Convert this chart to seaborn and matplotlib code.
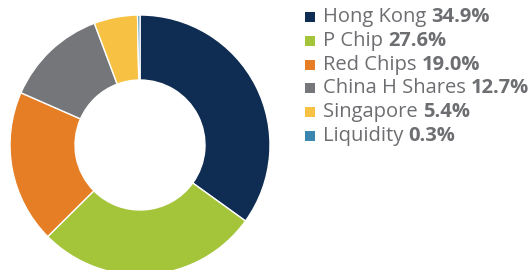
import matplotlib
matplotlib.use("Agg")
import matplotlib.pyplot as plt
import seaborn as sns
from matplotlib.patches import Rectangle

# Data
regions = ["Hong Kong", "P Chip", "Red Chips", "China H Shares", "Singapore", "Liquidity"]
weights = [34.9, 27.6, 19.0, 12.7, 5.4, 0.3]
colors = ["#0f2d52", "#a4c43a", "#e67e25", "#75767a", "#f7c243", "#3a86b0"]

sns.set_theme(style="white")
plt.rcParams["font.family"] = ["Open Sans", "DejaVu Sans"]

W, H = 532, 270
fig = plt.figure(figsize=(W / 100, H / 100), dpi=100)

# donut axes: centre at (140, 145) px, radius 130 px
cx, cy, r = 140, 145, 130
ax = fig.add_axes([(cx - r) / W, (H - cy - r) / H, 2 * r / W, 2 * r / H])
ax.pie(weights, colors=sns.color_palette(colors), startangle=90, counterclock=False,
       radius=1.0, wedgeprops=dict(width=0.5, edgecolor="white", linewidth=1))
ax.set_xlim(-1, 1)
ax.set_ylim(-1, 1)
ax.set_aspect("equal")
ax.axis("off")

# custom legend with regular label + bold percentage
text_color = "#6d6e71"
fs = 14.5
row0, step = 17, 23.8
renderer = fig.canvas.get_renderer()
for i, (name, val, col) in enumerate(zip(regions, weights, colors)):
    y = row0 + i * step
    fig.patches.append(Rectangle((305 / W, 1 - (y + 5) / H), 10 / W, 10 / H,
                                 transform=fig.transFigure, facecolor=col, edgecolor="none"))
    t = fig.text(323 / W, 1 - y / H, name + " ", fontsize=fs, color=text_color,
                 va="center", ha="left")
    bb = t.get_window_extent(renderer)
    fig.text(bb.x1 / W, 1 - y / H, f"{val:.1f}%", fontsize=fs, color=text_color,
             fontweight="bold", va="center", ha="left")

fig.savefig("out.png", dpi=100)
